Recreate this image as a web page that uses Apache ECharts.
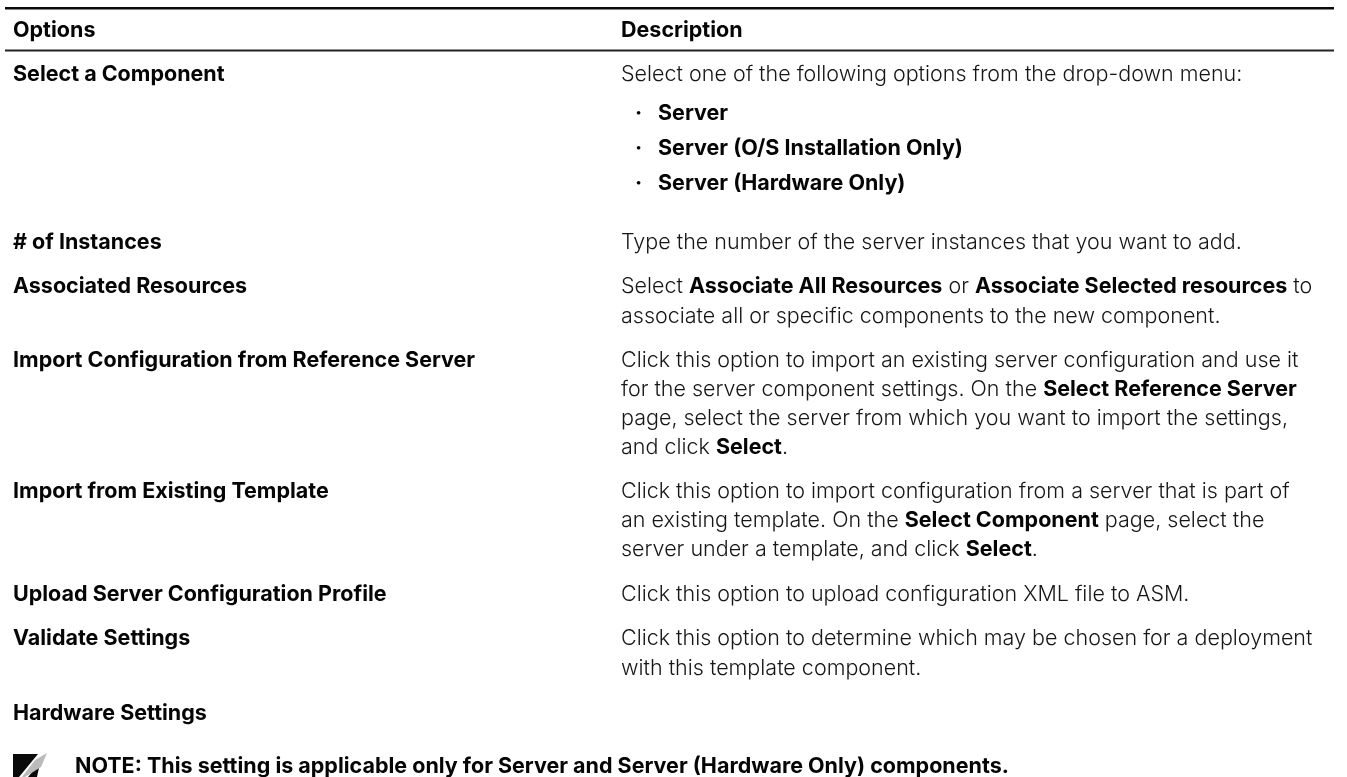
<!DOCTYPE html>
<html><head><meta charset="utf-8">
<style>html,body{margin:0;padding:0;background:#fff}#c{width:1347px;height:777px}</style>
<script src="https://cdn.jsdelivr.net/npm/echarts@6/dist/echarts.min.js"></script>
</head><body><div id="c"></div>
<script>
const headers = [[13,"Options"],[621,"Description"]];
const leftCells = [
 [73,"Select a Component"],[241,"# of Instances"],[285,"Associated Resources"],[359,"Import Configuration from Reference Server"],
 [490,"Import from Existing Template"],[593,"Upload Server Configuration Profile"],[637,"Validate Settings"],[712,"Hardware Settings"]];
const rightCells = [
 [73,"Select one of the following options from the drop-down menu:"],
 [241,"Type the number of the server instances that you want to add."],
 [285,"Select **Associate All Resources** or **Associate Selected resources** to"],
 [315,"associate all or specific components to the new component."],
 [359,"Click this option to import an existing server configuration and use it"],
 [388,"for the server component settings. On the **Select Reference Server**"],
 [417,"page, select the server from which you want to import the settings,"],
 [446,"and click **Select**."],
 [490,"Click this option to import configuration from a server that is part of"],
 [519,"an existing template. On the **Select Component** page, select the"],
 [548,"server under a template, and click **Select**."],
 [593,"Click this option to upload configuration XML file to ASM."],
 [637,"Click this option to determine which may be chosen for a deployment"],
 [667,"with this template component."]];
const bullets = [[112,"Server"],[147,"Server (O/S Installation Only)"],[182,"Server (Hardware Only)"]];
const note = "NOTE: This setting is applicable only for Server and Server (Hardware Only) components.";
const FONT = "Inter, Roboto, sans-serif", SIZE = 21.5, INK = "#050505", OFFSET = 1.5;
function rich(s){return s.split("**").map((p,i)=>p?`{${i%2?"b":"r"}|${p}}`:"").join("");}
const richStyles={r:{fontFamily:FONT,fontSize:SIZE,fontWeight:300,fill:"#161616"},b:{fontFamily:FONT,fontSize:SIZE,fontWeight:700,fill:INK}};
function t(x,y,s){return {type:"text",x,y:y+OFFSET,style:{text:s,rich:richStyles,verticalAlign:"middle",align:"left"}};}
const els=[];
els.push({type:"rect",shape:{x:5,y:7,width:1329,height:2.6},style:{fill:"#0a0a0a"}});
els.push({type:"rect",shape:{x:5,y:49.5,width:1329,height:2},style:{fill:"#222"}});
headers.forEach(h=>els.push(t(h[0],29,`{b|${h[1]}}`)));
leftCells.forEach(c=>els.push(t(13,c[0],`{b|${c[1]}}`)));
rightCells.forEach(c=>els.push(t(621,c[0],rich(c[1]))));
bullets.forEach(c=>{els.push(t(635,c[0],"{b|·}"));els.push(t(658,c[0],`{b|${c[1]}}`));});
els.push(t(75,765,`{b|${note}}`));
els.push({type:"polygon",shape:{points:[[13,754],[38,754],[19,777],[13,777]]},style:{fill:"#0a0a0a"}});
els.push({type:"polygon",shape:{points:[[28,777],[40,763],[37,777]]},style:{fill:"#0a0a0a"}});
els.push({type:"polygon",shape:{points:[[35,760],[47,753],[41,767],[25,777],[22,777]]},style:{fill:"#bbb"}});
echarts.init(document.getElementById("c")).setOption({animation:false,graphic:{elements:els}});
</script></body></html>
